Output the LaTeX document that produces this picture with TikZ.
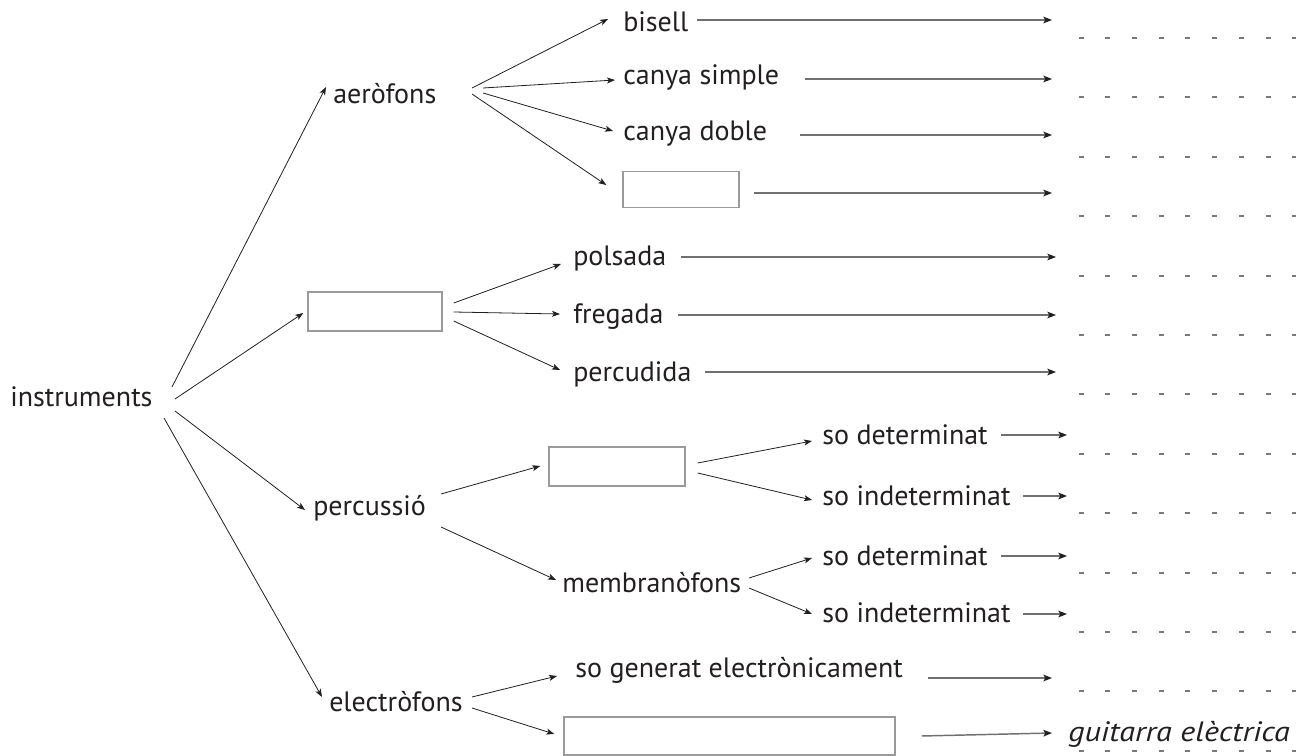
\documentclass[tikz,border=0pt]{standalone}
\usepackage{fontspec}
\setmainfont{PT Sans}
\usetikzlibrary{arrows.meta}
\definecolor{txt}{HTML}{231F20}
\definecolor{shaft}{HTML}{707070}
\definecolor{boxc}{HTML}{9A9A9A}
\definecolor{dashc}{HTML}{7A7A7A}
\tikzset{
  lbl/.style={inner sep=0pt, anchor=west, text=txt, font=\fontsize{21}{25}\selectfont, text height=1ex+8pt, text depth=0pt},
  blank/.style 2 args={draw=boxc, line width=1.1pt, inner sep=0pt, minimum width=#1*0.75pt, minimum height=#2*0.75pt},
  larr/.style={draw=txt, line width=0.6pt, -{Stealth[length=6pt,width=4.5pt,inset=1.5pt]}},
  rarr/.style={draw=shaft, line width=1.1pt, -{Stealth[length=6.5pt,width=5pt,inset=1.5pt,color=txt]}},
  dashline/.style={draw=dashc, line width=1.5pt, dash pattern=on 3.75pt off 16.3pt}
}
\begin{document}
\begin{tikzpicture}[x=0.75pt,y=-0.75pt]
\useasboundingbox (0,0) rectangle (1307,756);
% nodes
\node[lbl] (instr) at (10,398) {instruments};
\node[lbl] (aero) at (333,95) {aeròfons};
\node[blank={134}{39}] (box1) at (375,311.5) {};
\node[lbl] (perc) at (313,507) {percussió};
\node[lbl] (elec) at (329,703) {electròfons};
\node[lbl] (bisell) at (623,23) {bisell};
\node[lbl] (csimple) at (623,76) {canya simple};
\node[lbl] (cdoble) at (623,132) {canya doble};
\node[blank={116}{36}] (boxA) at (681,189.5) {};
\node[lbl] (polsada) at (573,257) {polsada};
\node[lbl] (fregada) at (573,315) {fregada};
\node[lbl] (percudida) at (573,373) {percudida};
\node[blank={136}{39}] (box2) at (617,466.5) {};
\node[lbl] (memb) at (562,584) {membranòfons};
\node[lbl] (sodet) at (822,436) {so determinat};
\node[lbl] (soind) at (822,497) {so indeterminat};
\node[lbl] (sodetb) at (822,556.5) {so determinat};
\node[lbl] (soindb) at (822,614) {so indeterminat};
\node[lbl] (sogen) at (575,668.5) {so generat electrònicament};
\node[blank={331}{38}] (boxC) at (729.5,736) {};
\node[lbl, font=\fontsize{21}{25}\selectfont\itshape] (guitar) at (1068,733) {\scalebox{1.15}[1]{guitarra elèctrica}};
% right-hand free ends
\coordinate (e1) at (1052,20);
\coordinate (e2) at (1052,79);
\coordinate (e3) at (1052,135);
\coordinate (e4) at (1052,193);
\coordinate (e5) at (1056,257);
\coordinate (e6) at (1056,315);
\coordinate (e7) at (1056,372);
\coordinate (e8) at (1067,435);
\coordinate (e9) at (1067,496);
\coordinate (e10) at (1067,556);
\coordinate (e11) at (1067,614);
\coordinate (e12) at (1052,678);
% left tree connectors
\draw[larr] ([shift={(162,-11)}]instr.west) -- ([shift={(-7,-8)}]aero.west);
\draw[larr] ([shift={(165,1)}]instr.west) -- ([shift={(-4,1.5)}]box1.west);
\draw[larr] ([shift={(165,13)}]instr.west) -- ([shift={(-8,3)}]perc.west);
\draw[larr] ([shift={(154,20)}]instr.west) -- ([shift={(-7,-6)}]elec.west);
\draw[larr] ([shift={(139,-7)}]aero.west) -- ([shift={(-15,-4)}]bisell.west);
\draw[larr] ([shift={(150,-7)}]aero.west) -- ([shift={(-8,4)}]csimple.west);
\draw[larr] ([shift={(150,-2)}]aero.west) -- ([shift={(-10,-1)}]cdoble.west);
\draw[larr] ([shift={(139,-1)}]aero.west) -- ([shift={(-16,-4.5)}]boxA.west);
\draw[larr] ([shift={(11,-8.5)}]box1.east) -- ([shift={(-12,7)}]polsada.west);
\draw[larr] ([shift={(11,0.5)}]box1.east) -- ([shift={(-13,-1)}]fregada.west);
\draw[larr] ([shift={(11,9.5)}]box1.east) -- ([shift={(-13,-3)}]percudida.west);
\draw[larr] ([shift={(128,-13)}]perc.west) -- ([shift={(-8,-0.5)}]box2.west);
\draw[larr] ([shift={(128,20)}]perc.west) -- ([shift={(-6,-4)}]memb.west);
\draw[larr] ([shift={(12,-3.5)}]box2.east) -- ([shift={(-10,5)}]sodet.west);
\draw[larr] ([shift={(12,6.5)}]box2.east) -- ([shift={(-10,3)}]soind.west);
\draw[larr] ([shift={(187,-6)}]memb.west) -- ([shift={(-10,1.5)}]sodetb.west);
\draw[larr] ([shift={(187,4)}]memb.west) -- ([shift={(-10,0)}]soindb.west);
\draw[larr] ([shift={(143,-6)}]elec.west) -- ([shift={(-18,7.5)}]sogen.west);
\draw[larr] ([shift={(143,5)}]elec.west) -- ([shift={(-9,-2)}]boxC.west);
% right-hand arrows
\draw[rarr] ([xshift=6pt]bisell.east |- e1) -- (e1);
\draw[rarr] ([xshift=19.5pt]csimple.east |- e2) -- (e2);
\draw[rarr] ([xshift=24.5pt]cdoble.east |- e3) -- (e3);
\draw[rarr] ([xshift=11pt]boxA.east |- e4) -- (e4);
\draw[rarr] ([xshift=10.5pt]polsada.east |- e5) -- (e5);
\draw[rarr] ([xshift=10.5pt]fregada.east |- e6) -- (e6);
\draw[rarr] ([xshift=10pt]percudida.east |- e7) -- (e7);
\draw[rarr] ([xshift=10pt]sodet.east |- e8) -- (e8);
\draw[rarr] ([xshift=9pt]soind.east |- e9) -- (e9);
\draw[rarr] ([xshift=10pt]sodetb.east |- e10) -- (e10);
\draw[rarr] ([xshift=9pt]soindb.east |- e11) -- (e11);
\draw[rarr] ([xshift=19pt]sogen.east |- e12) -- (e12);
\draw[rarr] ([xshift=19.5pt]boxC.east) -- ([xshift=-12pt]guitar.west);
% dashed answer lines
\foreach \k in {0,...,12}{
  \draw[dashline] (1078.5,{38+59.4*\k}) -- (1296,{38+59.4*\k});
}
\end{tikzpicture}
\end{document}
